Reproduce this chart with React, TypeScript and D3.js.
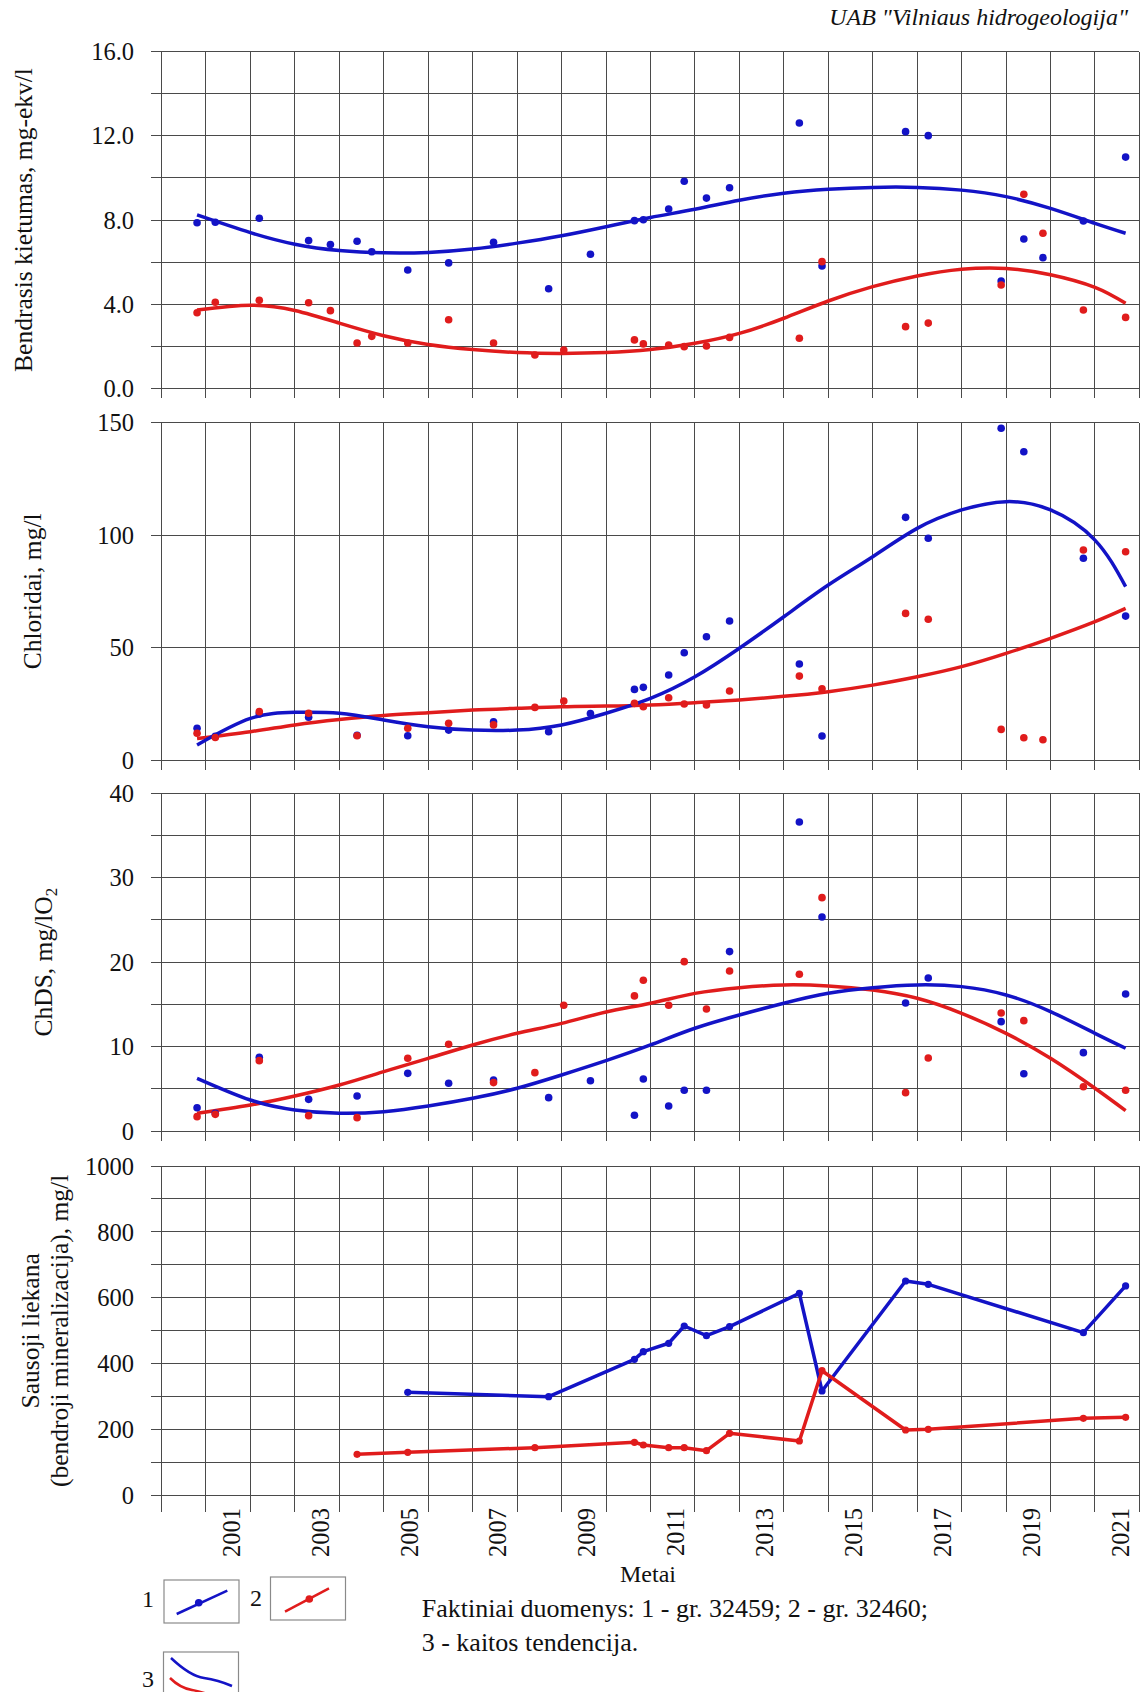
import * as d3 from 'd3'
import { useEffect, useRef } from 'react'

// sampling dates (decimal years) of the two wells
const well1Dates = [2000.8, 2001.21, 2002.2, 2003.31, 2003.8, 2004.4, 2004.73, 2005.54, 2006.46, 2007.47, 2008.71, 2009.65, 2010.64, 2010.84, 2011.41, 2011.76, 2012.26, 2012.78, 2014.35, 2014.86, 2016.74, 2017.25, 2018.89, 2019.4, 2019.83, 2020.74, 2021.69]
const well2Dates = [2000.8, 2001.21, 2002.2, 2003.31, 2003.8, 2004.4, 2004.73, 2005.54, 2006.46, 2007.47, 2008.4, 2009.05, 2010.64, 2010.84, 2011.41, 2011.76, 2012.26, 2012.78, 2014.35, 2014.86, 2016.74, 2017.25, 2018.89, 2019.4, 2019.83, 2020.74, 2021.69]

const hardness1 = [7.87, 7.89, 8.08, 7.02, 6.83, 6.99, 6.49, 5.62, 5.96, 6.94, 4.73, 6.37, 7.97, 8.01, 8.52, 9.84, 9.04, 9.53, 12.61, 5.81, 12.2, 12.01, 5.1, 7.1, 6.21, 7.95, 10.99]
const hardness2 = [3.59, 4.09, 4.18, 4.07, 3.69, 2.15, 2.47, 2.15, 3.26, 2.15, 1.58, 1.82, 2.3, 2.11, 2.06, 1.98, 2.01, 2.42, 2.38, 6.02, 2.93, 3.1, 4.91, 9.22, 7.37, 3.72, 3.37]

const chloride1 = [14.1, 10.5, 20.5, 19.0, null, 11.0, null, 10.8, 13.3, 17.0, 12.6, 20.7, 31.4, 32.3, 37.8, 47.7, 54.8, 61.8, 42.7, 10.7, 107.9, 98.6, 147.5, 137.1, null, 89.7, 64.0]
const chloride2 = [11.9, 10.0, 21.5, 20.8, null, 10.8, null, 14.1, 16.3, 15.6, 23.4, 26.2, 25.2, 23.7, 27.7, 24.9, 24.5, 30.7, 37.3, 31.7, 65.2, 62.6, 13.6, 9.9, 9.0, 93.4, 92.6]

const cod1 = [2.76, 2.1, 8.73, 3.75, null, 4.15, null, 6.83, 5.65, 6.04, 3.95, 5.96, 1.86, 6.16, 2.96, 4.82, 4.82, 21.25, 36.6, 25.35, 15.17, 18.13, 12.95, 6.79, null, 9.28, 16.23]
const cod2 = [1.7, 1.97, 8.33, 1.82, null, 1.58, null, 8.61, 10.27, 5.73, 6.91, 14.9, 16.0, 17.85, 14.9, 20.06, 14.45, 18.96, 18.56, 27.64, 4.54, 8.65, 13.98, 13.07, null, 5.25, 4.82]

const residue1 = [null, null, null, null, null, null, null, 313.6, null, null, 300.3, null, 413.7, 436.8, 462.3, 514.7, 485.3, 512.6, 613.9, 317.6, 651.2, 641.2, null, null, null, 494.4, 636.3]
const residue2 = [null, null, null, null, null, 125.6, null, 131.6, null, null, 145.6, null, 162.0, 153.8, 145.6, 145.6, 136.5, 189.3, 165.9, 379.1, 199.3, 201.4, null, null, null, 234.8, 237.8]

// trend curves (kaitos tendencija)
const trendYears = [2000.8, 2002, 2003, 2004, 2005, 2006, 2007, 2008, 2009, 2010, 2011, 2012, 2013, 2014, 2015, 2016, 2017, 2018, 2019, 2020, 2021, 2021.69]
const hardnessTrend1 = [8.24, 7.4, 6.85, 6.55, 6.44, 6.46, 6.62, 6.9, 7.25, 7.68, 8.12, 8.51, 8.94, 9.27, 9.46, 9.55, 9.55, 9.42, 9.11, 8.55, 7.84, 7.37]
const hardnessTrend2 = [3.72, 3.95, 3.7, 3.1, 2.5, 2.08, 1.84, 1.7, 1.66, 1.7, 1.84, 2.14, 2.61, 3.33, 4.15, 4.83, 5.34, 5.66, 5.7, 5.4, 4.8, 4.04]
const chlorideTrend1 = [6.7, 18.5, 21.2, 20.8, 17.8, 14.8, 13.3, 13.3, 15.6, 20.8, 27.4, 37.0, 49.7, 63.7, 77.8, 90.4, 103.0, 111.2, 114.9, 111.2, 97.8, 77.1]
const chlorideTrend2 = [9.6, 12.6, 15.6, 18.0, 19.8, 21.0, 22.2, 23.0, 23.7, 24.0, 24.5, 25.5, 26.7, 28.3, 30.4, 33.3, 37.0, 41.5, 47.4, 54.1, 61.5, 67.4]
const codTrend1 = [6.24, 3.67, 2.49, 2.1, 2.29, 2.96, 3.87, 5.06, 6.63, 8.33, 10.19, 12.17, 13.74, 15.13, 16.31, 16.98, 17.3, 17.1, 16.11, 14.14, 11.57, 9.8]
const codTrend2 = [2.1, 3.08, 4.15, 5.45, 7.03, 8.61, 10.19, 11.57, 12.75, 14.1, 15.13, 16.3, 16.98, 17.3, 17.18, 16.7, 15.72, 13.94, 11.57, 8.61, 5.06, 2.41]

const yearLabels = [2001, 2003, 2005, 2007, 2009, 2011, 2013, 2015, 2017, 2019, 2021]

const BLUE = '#1313c6'
const RED = '#e01c1c'
const GRID = '#4a4a4a'
const FONT = "'Liberation Serif', 'Times New Roman', Times, 'DejaVu Serif', serif"

export default function App() {
  const ref = useRef<SVGSVGElement>(null)

  useEffect(() => {
    const svg = d3.select(ref.current)
    svg.selectAll('*').remove()

    const x = d3.scaleLinear().domain([2000, 2022]).range([161.5, 1139.4])
    const gridLeft = 151

    const panels = [
      { top: 51.7, bottom: 388.3, max: 16, step: 2, labelStep: 4, fmt: d3.format('.1f'), s1: hardness1, s2: hardness2, t1: hardnessTrend1, t2: hardnessTrend2, ext: 10, title: ['Bendrasis kietumas, mg-ekv/l'], titleX: [32] },
      { top: 422.7, bottom: 760, max: 150, step: 50, labelStep: 50, fmt: d3.format('d'), s1: chloride1, s2: chloride2, t1: chlorideTrend1, t2: chlorideTrend2, ext: 10, title: ['Chloridai, mg/l'], titleX: [41] },
      { top: 793.3, bottom: 1131, max: 40, step: 5, labelStep: 10, fmt: d3.format('d'), s1: cod1, s2: cod2, t1: codTrend1, t2: codTrend2, ext: 10, title: ['ChDS, mg/lO'], titleX: [52], sub: '2' },
      { top: 1166, bottom: 1495.7, max: 1000, step: 100, labelStep: 200, fmt: d3.format('d'), s1: residue1, s2: residue2, t1: null, t2: null, ext: 16, title: ['Sausoji liekana', '(bendroji mineralizacija), mg/l'], titleX: [39, 68] }
    ]

    const pts = (dates: number[], vals: (number | null)[]) =>
      dates.map((d, i) => ({ d, v: vals[i] })).filter((p) => p.v != null) as { d: number; v: number }[]

    panels.forEach((p) => {
      const y = d3.scaleLinear().domain([0, p.max]).range([p.bottom, p.top])
      const g = svg.append('g')

      // grid
      const grid = g.append('g').attr('stroke', GRID).attr('stroke-width', 1).attr('shape-rendering', 'crispEdges')
      d3.range(0, p.max + 0.001, p.step).forEach((v) => {
        grid.append('line').attr('x1', gridLeft).attr('x2', x(2022)).attr('y1', y(v)).attr('y2', y(v))
      })
      d3.range(2000, 2023).forEach((yr) => {
        grid.append('line').attr('x1', x(yr)).attr('x2', x(yr)).attr('y1', p.top).attr('y2', p.bottom + p.ext)
      })

      // y tick labels
      d3.range(0, p.max + 0.001, p.labelStep).forEach((v) => {
        g.append('text')
          .attr('x', 134)
          .attr('y', y(v))
          .attr('dy', '0.35em')
          .attr('text-anchor', 'end')
          .style('font-family', FONT)
          .style('font-size', '24.5px')
          .attr('fill', '#111')
          .text(p.fmt(v))
      })

      // axis title
      const cy = (p.top + p.bottom) / 2
      p.title.forEach((t, i) => {
        const tx = g.append('text')
          .attr('transform', `translate(${p.titleX[i]},${cy}) rotate(-90)`)
          .attr('text-anchor', 'middle')
          .style('font-family', FONT)
          .style('font-size', '25.5px')
          .attr('fill', '#111')
          .text(t)
        if (p.sub) tx.append('tspan').style('font-size', '17px').attr('dy', 5).text(p.sub)
      })

      const a = pts(well1Dates, p.s1)
      const b = pts(well2Dates, p.s2)

      if (p.t1) {
        const trend = d3.line<number>().x((_, i) => x(trendYears[i])).y((v) => y(v)).curve(d3.curveNatural)
        g.append('path').attr('d', trend(p.t2)).attr('fill', 'none').attr('stroke', RED).attr('stroke-width', 3.5)
        g.append('path').attr('d', trend(p.t1)).attr('fill', 'none').attr('stroke', BLUE).attr('stroke-width', 3.5)
        g.selectAll(null).data(a).enter().append('circle')
          .attr('cx', (d) => x(d.d)).attr('cy', (d) => y(d.v)).attr('r', 3.8).attr('fill', BLUE)
        g.selectAll(null).data(b).enter().append('circle')
          .attr('cx', (d) => x(d.d)).attr('cy', (d) => y(d.v)).attr('r', 3.8).attr('fill', RED)
      } else {
        const line = d3.line<{ d: number; v: number }>().x((d) => x(d.d)).y((d) => y(d.v))
        ;[[a, BLUE], [b, RED]].forEach(([s, c]: any) => {
          g.append('path').attr('d', line(s)).attr('fill', 'none').attr('stroke', c).attr('stroke-width', 3.5).attr('stroke-linejoin', 'round')
          g.selectAll(null).data(s).enter().append('circle')
            .attr('cx', (d: any) => x(d.d)).attr('cy', (d: any) => y(d.v)).attr('r', 3.6).attr('fill', c)
        })
      }
    })

    // x labels
    yearLabels.forEach((yr) => {
      svg.append('text')
        .attr('transform', `translate(${x(yr + 0.5) + 3},1508) rotate(-90)`)
        .attr('dy', '0.35em')
        .attr('text-anchor', 'end')
        .style('font-family', FONT)
        .style('font-size', '24.5px')
        .attr('fill', '#111')
        .text(yr)
    })

    const txt = (tx: number, ty: number, s: string, size: number, anchor = 'start', italic = false) =>
      svg.append('text')
        .attr('x', tx).attr('y', ty)
        .attr('text-anchor', anchor)
        .style('font-family', FONT)
        .style('font-size', `${size}px`)
        .style('font-style', italic ? 'italic' : 'normal')
        .attr('fill', '#111')
        .text(s)

    txt(1128, 25, 'UAB "Vilniaus hidrogeologija"', 24, 'end', true)
    txt(648, 1582, 'Metai', 24, 'middle')
    txt(421.7, 1617, 'Faktiniai duomenys: 1 - gr. 32459; 2 - gr. 32460;', 26)
    txt(421.7, 1651, '3 - kaitos tendencija.', 26)

    // legend
    const box = (bx: number, by: number) =>
      svg.append('rect').attr('x', bx).attr('y', by).attr('width', 75).attr('height', 43)
        .attr('fill', 'none').attr('stroke', '#8a8a8a').attr('stroke-width', 1.2)
    box(164, 1580)
    box(270.5, 1577)
    box(163.5, 1652)
    txt(148, 1607, '1', 24, 'middle')
    txt(256, 1606, '2', 24, 'middle')
    txt(148, 1687, '3', 24, 'middle')
    svg.append('line').attr('x1', 176.7).attr('y1', 1614).attr('x2', 227.3).attr('y2', 1590.7).attr('stroke', BLUE).attr('stroke-width', 2.5)
    svg.append('circle').attr('cx', 198.7).attr('cy', 1602.7).attr('r', 3.8).attr('fill', BLUE)
    svg.append('line').attr('x1', 285).attr('y1', 1611.7).attr('x2', 329).attr('y2', 1588.3).attr('stroke', RED).attr('stroke-width', 2.5)
    svg.append('circle').attr('cx', 309.3).attr('cy', 1599).attr('r', 3.8).attr('fill', RED)
    svg.append('path').attr('d', 'M171,1658 Q190,1676 204,1678 T232,1686').attr('fill', 'none').attr('stroke', BLUE).attr('stroke-width', 2.5)
    svg.append('path').attr('d', 'M170,1678 Q180,1688 192,1690 T214,1697').attr('fill', 'none').attr('stroke', RED).attr('stroke-width', 2.5)
  }, [])

  return <svg ref={ref} width={1144} height={1692} style={{ position: 'absolute', left: 0, top: 0, background: '#fff' }} />
}
